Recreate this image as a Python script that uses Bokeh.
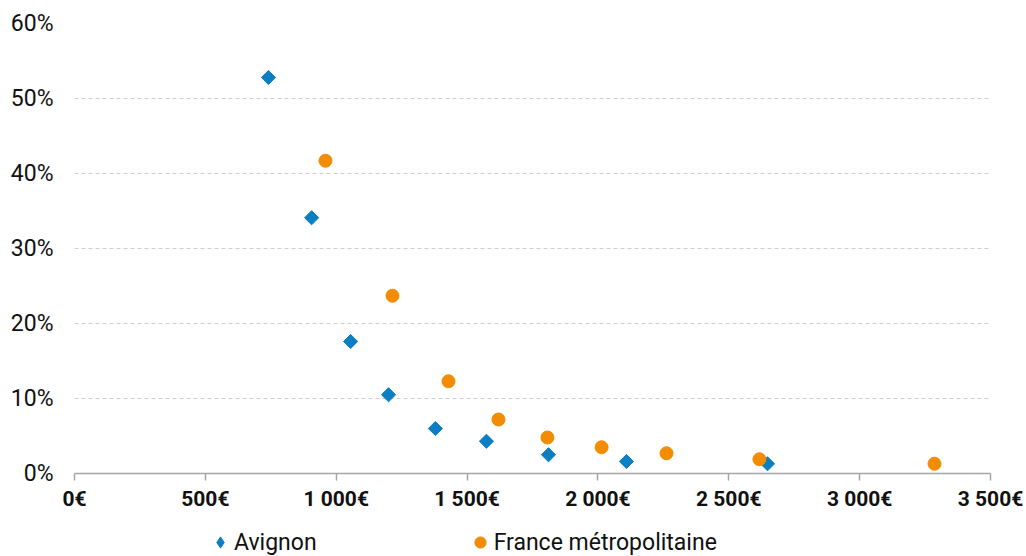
from bokeh.plotting import figure
from bokeh.layouts import column
from bokeh.models import (ColumnDataSource, FixedTicker, NumeralTickFormatter,
                          CustomJSTickFormatter, Legend, LegendItem, Range1d)
from bokeh.embed import file_html
from bokeh.resources import INLINE

# Data (revenue in €, share in %)
avignon_x = [741, 906, 1055, 1200, 1379, 1574, 1811, 2109, 2648]
avignon_y = [52.8, 34.1, 17.6, 10.5, 6.0, 4.3, 2.5, 1.6, 1.3]
france_x = [959, 1215, 1429, 1620, 1807, 2014, 2262, 2617, 3286]
france_y = [41.7, 23.7, 12.3, 7.2, 4.8, 3.5, 2.7, 1.9, 1.3]
x_ticks = [0, 500, 1000, 1500, 2000, 2500, 3000, 3500]
y_ticks = [0, 0.1, 0.2, 0.3, 0.4, 0.5, 0.6]
series_names = ["Avignon", "France métropolitaine"]

BLUE = "#0b7fc1"
ORANGE = "#f28c00"

p = figure(width=1026, height=513, output_backend="svg", toolbar_location=None,
           x_range=Range1d(0, 3500), y_range=Range1d(0, 0.6),
           min_border_left=74, min_border_right=36, min_border_top=23,
           min_border_bottom=40)
p.outline_line_color = None
p.background_fill_color = "white"
p.border_fill_color = "white"

src_a = ColumnDataSource(dict(x=avignon_x, y=[v / 100 for v in avignon_y]))
src_f = ColumnDataSource(dict(x=france_x, y=[v / 100 for v in france_y]))

ra = p.scatter("x", "y", source=src_a, marker="square", size=10, angle=0.785398,
               fill_color=BLUE, line_color=BLUE)
rf = p.scatter("x", "y", source=src_f, marker="circle", size=13,
               fill_color=ORANGE, line_color=ORANGE)

# X axis
xa = p.xaxis[0]
xa.ticker = FixedTicker(ticks=x_ticks)
xa.formatter = CustomJSTickFormatter(code="""
    return tick.toFixed(0).replace(/\\B(?=(\\d{3})+(?!\\d))/g, ' ') + '€';
""")
xa.axis_line_color = "#a6a6a6"
xa.axis_line_width = 1.5
xa.major_tick_line_color = "#a6a6a6"
xa.major_tick_line_width = 1.5
xa.major_tick_in = 0
xa.major_tick_out = 7
xa.minor_tick_line_color = None
xa.major_label_text_font = "Roboto"
xa.major_label_text_font_style = "bold"
xa.major_label_text_font_size = "21px"
xa.major_label_text_color = "#111111"
xa.major_label_standoff = 6

# Y axis
ya = p.yaxis[0]
ya.ticker = FixedTicker(ticks=y_ticks)
ya.formatter = NumeralTickFormatter(format="0%")
ya.axis_line_color = None
ya.major_tick_line_color = None
ya.minor_tick_line_color = None
ya.major_label_text_font = "Roboto"
ya.major_label_text_font_size = "23px"
ya.major_label_text_color = "#111111"
ya.major_label_standoff = 15

p.xgrid.grid_line_color = None
p.ygrid.ticker = FixedTicker(ticks=y_ticks[1:])
p.ygrid.grid_line_color = "#cfcfcf"
p.ygrid.grid_line_dash = "4 3"
p.ygrid.grid_line_width = 1

# Legend strip below the chart (its sample glyphs sit outside the visible range)
lf = figure(width=1026, height=43, output_backend="svg", toolbar_location=None,
            x_range=Range1d(0, 1), y_range=Range1d(0, 1),
            min_border=0, min_border_left=0, min_border_right=0,
            min_border_top=0, min_border_bottom=0)
lf.axis.visible = False
lf.grid.visible = False
lf.outline_line_color = None
la = lf.scatter(x=[-5], y=[-5], marker="diamond", fill_color=BLUE, line_color=BLUE)
lfr = lf.scatter(x=[-5], y=[-5], marker="circle", fill_color=ORANGE, line_color=ORANGE)

legend = Legend(items=[LegendItem(label=series_names[0], renderers=[la]),
                       LegendItem(label=series_names[1], renderers=[lfr])],
                orientation="horizontal", location=(132, 0),
                padding=0, margin=0, spacing=149, label_standoff=0,
                glyph_width=28, glyph_height=28, label_height=24,
                label_text_font="Roboto", label_text_font_size="23px",
                label_text_color="#111111",
                background_fill_alpha=0, border_line_color=None)
lf.add_layout(legend, "center")

layout = column(p, lf, spacing=0)
open("out.html", "w").write(file_html(layout, INLINE))
